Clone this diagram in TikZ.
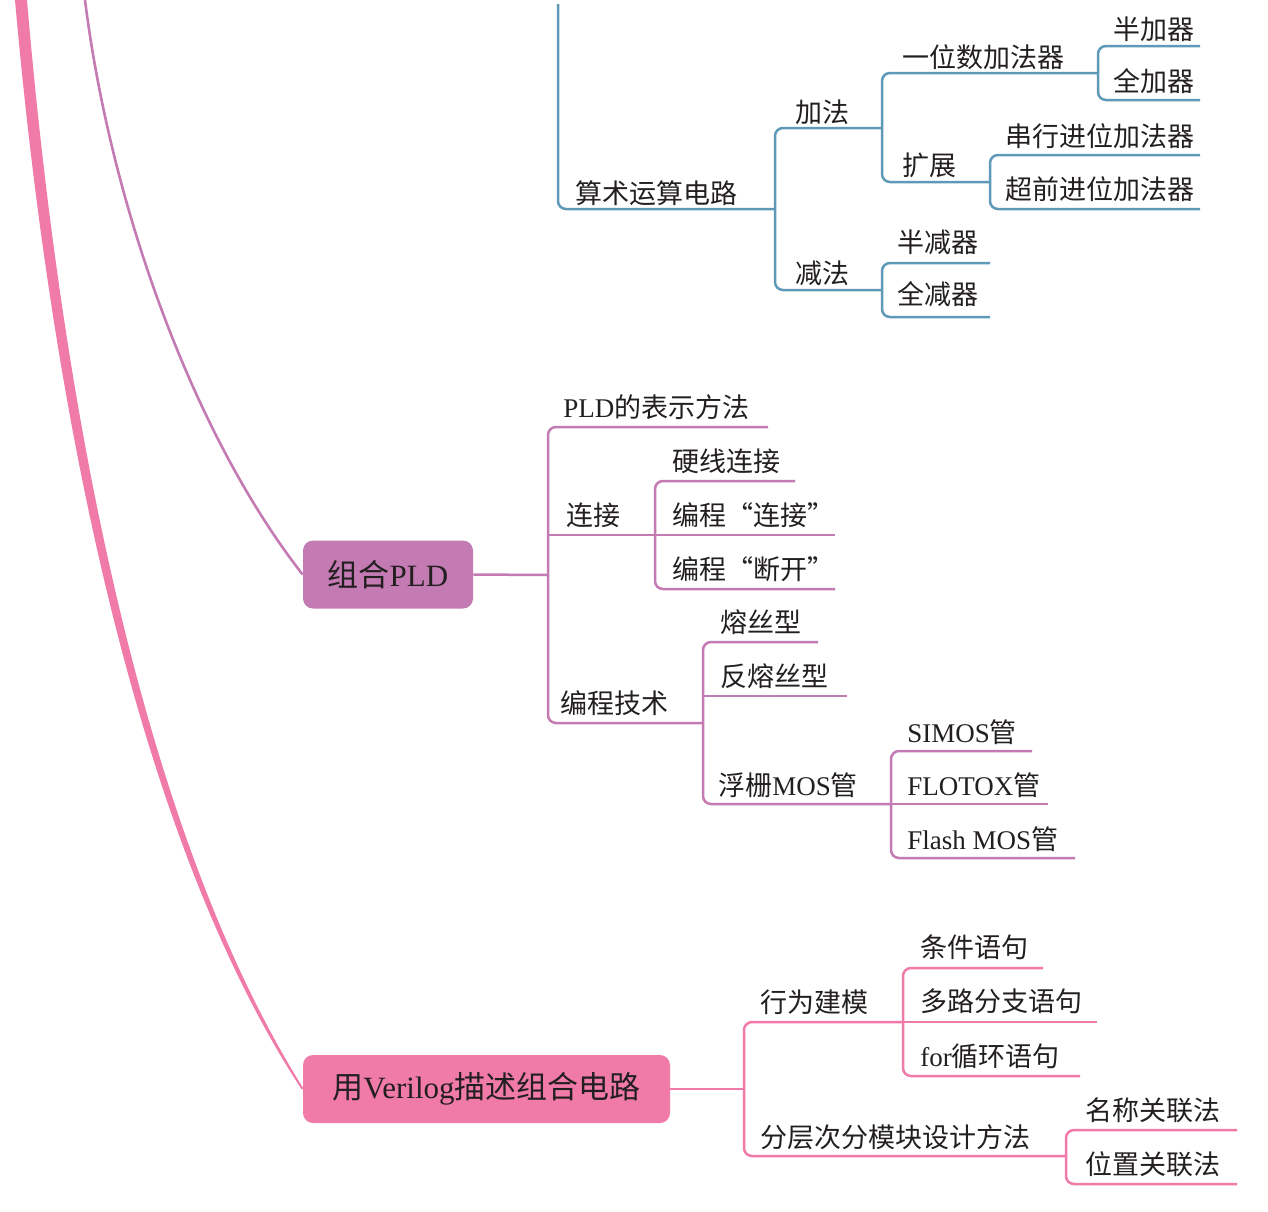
\documentclass[tikz,border=0pt]{standalone}
\usepackage{fontspec}
\setmainfont{Noto Sans CJK SC}
\newfontfamily\lat{Liberation Serif}
\definecolor{mapblue}{RGB}{94,154,184}
\definecolor{mappurple}{RGB}{196,122,178}
\definecolor{mappink}{RGB}{240,122,168}
\definecolor{mapink}{RGB}{35,31,32}
\tikzset{
  topic/.style={anchor=base west, inner sep=0pt, text=mapink, font=\fontsize{13.5}{16}\selectfont},
  branch/.style={line width=1.25pt, rounded corners=4pt},
  rootbox/.style={rounded corners=5pt, minimum height=34pt, inner sep=0pt, text=mapink, font=\fontsize{15.5}{18}\selectfont}
}
\begin{document}
\begin{tikzpicture}[x=0.5pt,y=0.5pt,yscale=-1,xscale=1]
\useasboundingbox (0,0) rectangle (1268,1211);

%Shape: Rounded Rect
\node [rootbox, fill=mappurple, minimum width=85pt] (pld) at (388,574.5) {组合{\lat PLD}};
\node [rootbox, fill=mappink, minimum width=183.5pt] (vlog) at (486.5,1089) {用{\lat Verilog}描述组合电路};

%Curve Lines
\draw [mappurple, line width=1.3pt] (85,0) .. controls (110,200) and (190,430) .. (pld.west) ;
\filldraw [mappink, line width=1pt] (16,0) .. controls (56,452) and (148,853) .. (vlog.west) .. controls (151,848) and (64,448) .. (26,0) -- cycle ;

%Coordinates, blue branch
\coordinate (top) at (558,4);
\coordinate (ss-a) at (558,209);  \coordinate (ss-b) at (775,209);
\coordinate (jf-a) at (775,128);  \coordinate (jf-b) at (882,128);
\coordinate (yw-a) at (882,73);   \coordinate (yw-b) at (1098,73);
\coordinate (bjq-a) at (1098,46); \coordinate (bjq-b) at (1200,46);
\coordinate (qjq-a) at (1098,100); \coordinate (qjq-b) at (1200,100);
\coordinate (kz-a) at (882,182);  \coordinate (kz-b) at (990,182);
\coordinate (cx-a) at (990,155);  \coordinate (cx-b) at (1200,155);
\coordinate (cq-a) at (990,209);  \coordinate (cq-b) at (1200,209);
\coordinate (jianfa-a) at (775,290); \coordinate (jianfa-b) at (882,290);
\coordinate (bjian-a) at (882,263); \coordinate (bjian-b) at (990,263);
\coordinate (qjian-a) at (882,317); \coordinate (qjian-b) at (990,317);

%Straight Lines, blue branch
\draw [branch, mapblue] (top) -- (ss-a) -- (ss-b) ;
\draw [branch, mapblue] (jf-b) -- (jf-a) -- (jianfa-a) -- (jianfa-b) ;
\draw [branch, mapblue] (yw-b) -- (yw-a) -- (kz-a) -- (kz-b) ;
\draw [branch, mapblue] (bjq-b) -- (bjq-a) -- (qjq-a) -- (qjq-b) ;
\draw [branch, mapblue] (cx-b) -- (cx-a) -- (cq-a) -- (cq-b) ;
\draw [branch, mapblue] (bjian-b) -- (bjian-a) -- (qjian-a) -- (qjian-b) ;

% Text Node
\node [topic] (ss) at (575,203) {算术运算电路};
\node [topic] (jf) at (795,122) {加法};
\node [topic] (yw) at (902,67) {一位数加法器};
\node [topic] (bjq) at (1113,39) {半加器};
\node [topic] (qjq) at (1113,91) {全加器};
\node [topic] (kz) at (902,175) {扩展};
\node [topic] (cx) at (1005,146) {串行进位加法器};
\node [topic] (cq) at (1005,199) {超前进位加法器};
\node [topic] (jianfa) at (795,283) {减法};
\node [topic] (bjian) at (897,252) {半减器};
\node [topic] (qjian) at (897,304) {全减器};

%Coordinates, purple branch
\coordinate (pld-b) at (548,575);
\coordinate (bs-a) at (548,427);   \coordinate (bs-b) at (768,427);
\coordinate (lj-a) at (548,535);   \coordinate (lj-b) at (655,535);
\coordinate (yx-a) at (655,481);   \coordinate (yx-b) at (795,481);
\coordinate (bclj-a) at (655,535); \coordinate (bclj-b) at (835,535);
\coordinate (bcdk-a) at (655,589); \coordinate (bcdk-b) at (835,589);
\coordinate (bcjs-a) at (548,723); \coordinate (bcjs-b) at (703,723);
\coordinate (rs-a) at (703,642);   \coordinate (rs-b) at (818,642);
\coordinate (frs-a) at (703,696);  \coordinate (frs-b) at (847,696);
\coordinate (fz-a) at (703,804);   \coordinate (fz-b) at (891,804);
\coordinate (simos-a) at (891,751);  \coordinate (simos-b) at (1032,751);
\coordinate (flotox-a) at (891,804); \coordinate (flotox-b) at (1048,804);
\coordinate (flash-a) at (891,858);  \coordinate (flash-b) at (1075,858);

%Straight Lines, purple branch
\draw [branch, mappurple] (pld.east) -- (pld-b) ;
\draw [branch, mappurple] (bs-b) -- (bs-a) -- (bcjs-a) -- (bcjs-b) ;
\draw [branch, mappurple] (lj-a) -- (lj-b) ;
\draw [branch, mappurple] (yx-b) -- (yx-a) -- (bcdk-a) -- (bcdk-b) ;
\draw [branch, mappurple] (bclj-a) -- (bclj-b) ;
\draw [branch, mappurple] (rs-b) -- (rs-a) -- (fz-a) -- (fz-b) ;
\draw [branch, mappurple] (frs-a) -- (frs-b) ;
\draw [branch, mappurple] (simos-b) -- (simos-a) -- (flash-a) -- (flash-b) ;
\draw [branch, mappurple] (flotox-a) -- (flotox-b) ;

% Text Node
\node [topic] (bs) at (563,417) {{\lat PLD}的表示方法};
\node [topic] (lj) at (566,525) {连接};
\node [topic] (yx) at (672,471) {硬线连接};
\node [topic] (bclj) at (672,525) {编程“连接”};
\node [topic] (bcdk) at (672,579) {编程“断开”};
\node [topic] (bcjs) at (560,713) {编程技术};
\node [topic] (rs) at (720,632) {熔丝型};
\node [topic] (frs) at (720,686) {反熔丝型};
\node [topic] (fz) at (718,795) {浮栅{\lat MOS}管};
\node [topic] (simos) at (907,742) {{\lat SIMOS}管};
\node [topic] (flotox) at (907,795) {{\lat FLOTOX}管};
\node [topic] (flash) at (907,849) {{\lat Flash MOS}管};

%Coordinates, pink branch
\coordinate (vlog-b) at (744,1089);
\coordinate (xw-a) at (744,1022);  \coordinate (xw-b) at (903,1022);
\coordinate (tj-a) at (903,968);   \coordinate (tj-b) at (1043,968);
\coordinate (dl-a) at (903,1022);  \coordinate (dl-b) at (1097,1022);
\coordinate (forxh-a) at (903,1076); \coordinate (forxh-b) at (1080,1076);
\coordinate (fc-a) at (744,1156);  \coordinate (fc-b) at (1066,1156);
\coordinate (mc-a) at (1066,1130); \coordinate (mc-b) at (1237,1130);
\coordinate (wz-a) at (1066,1184); \coordinate (wz-b) at (1237,1184);

%Straight Lines, pink branch
\draw [branch, mappink] (vlog.east) -- (vlog-b) ;
\draw [branch, mappink] (xw-b) -- (xw-a) -- (fc-a) -- (fc-b) ;
\draw [branch, mappink] (tj-b) -- (tj-a) -- (forxh-a) -- (forxh-b) ;
\draw [branch, mappink] (dl-a) -- (dl-b) ;
\draw [branch, mappink] (mc-b) -- (mc-a) -- (wz-a) -- (wz-b) ;

% Text Node
\node [topic] (xw) at (760,1012) {行为建模};
\node [topic] (tj) at (920,957) {条件语句};
\node [topic] (dl) at (920,1011) {多路分支语句};
\node [topic] (forxh) at (920,1066) {{\lat for}循环语句};
\node [topic] (fc) at (760,1147) {分层次分模块设计方法};
\node [topic] (mc) at (1085,1120) {名称关联法};
\node [topic] (wz) at (1085,1174) {位置关联法};

\end{tikzpicture}
\end{document}
